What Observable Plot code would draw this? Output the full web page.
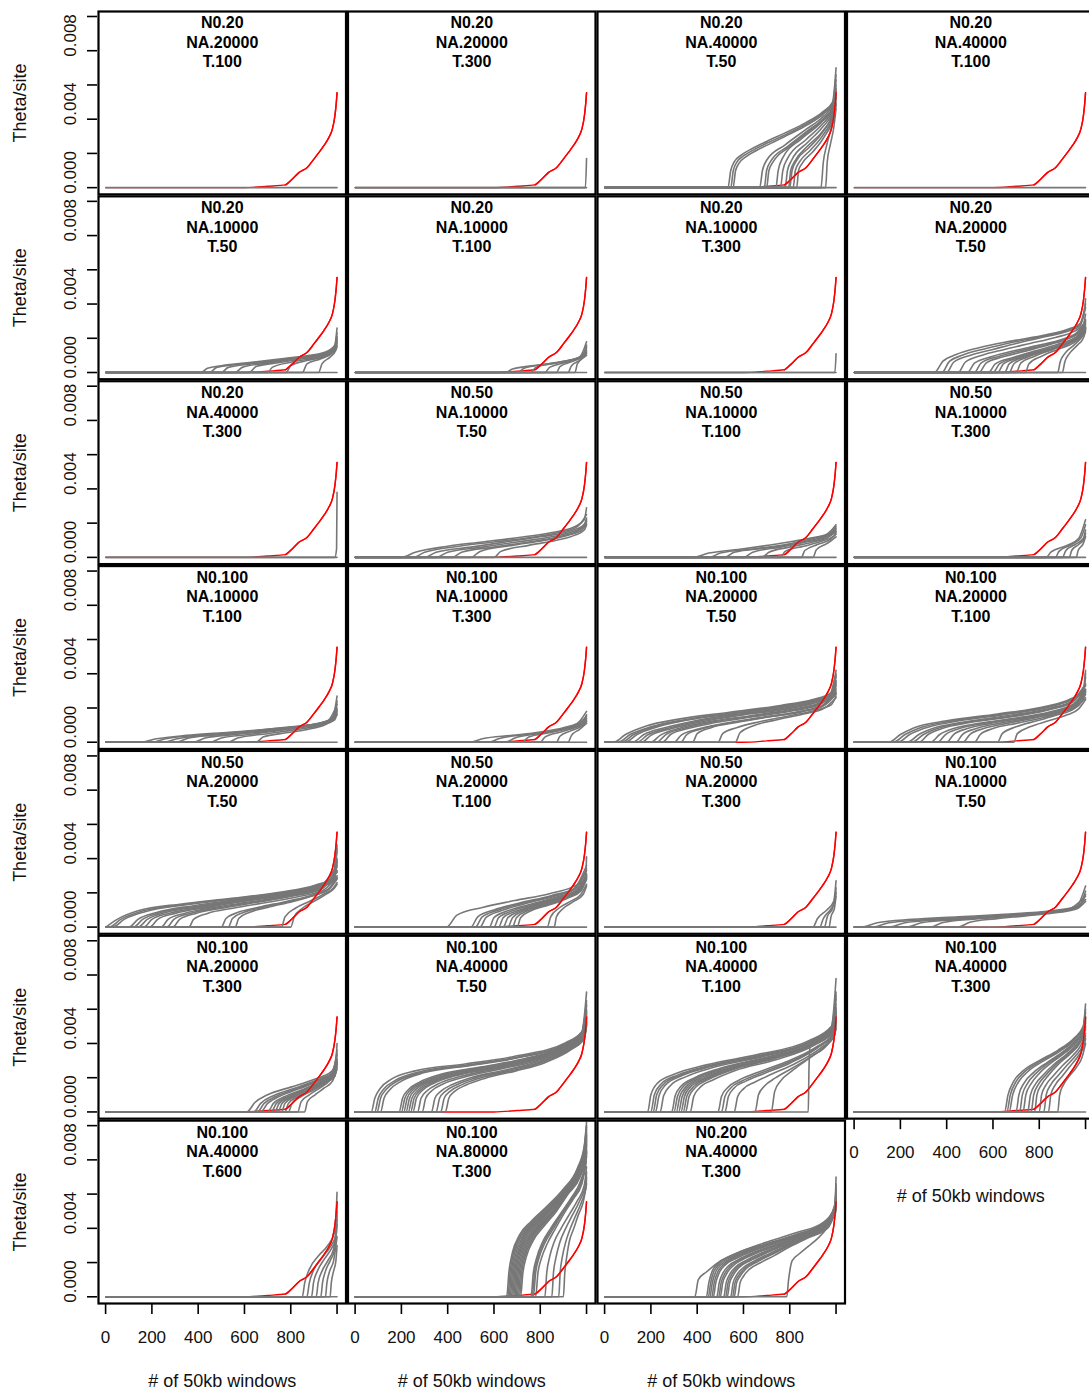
<!DOCTYPE html>
<html><head><meta charset="utf-8">
<script src="https://cdn.jsdelivr.net/npm/d3@7"></script>
<script src="https://cdn.jsdelivr.net/npm/@observablehq/plot@0.6"></script>
<style>
body{margin:0;background:#fff;}
#wrap{width:1089px;height:1392px;overflow:hidden;}
#wrap svg{max-width:none !important;}
</style></head><body><div id="wrap"></div>
<script>
// Panel titles (row-major, 4 per row)
const titleN0 = ["N0.20","N0.20","N0.20","N0.20","N0.20","N0.20","N0.20","N0.20","N0.20","N0.50","N0.50","N0.50","N0.100","N0.100","N0.100","N0.100","N0.50","N0.50","N0.50","N0.100","N0.100","N0.100","N0.100","N0.100","N0.100","N0.100","N0.200"];
const titleNA = ["NA.20000","NA.20000","NA.40000","NA.40000","NA.10000","NA.10000","NA.10000","NA.20000","NA.40000","NA.10000","NA.10000","NA.10000","NA.10000","NA.10000","NA.20000","NA.20000","NA.20000","NA.20000","NA.20000","NA.10000","NA.20000","NA.40000","NA.40000","NA.40000","NA.40000","NA.80000","NA.40000"];
const titleT = ["T.100","T.300","T.50","T.100","T.50","T.100","T.300","T.50","T.300","T.50","T.100","T.300","T.100","T.300","T.50","T.100","T.50","T.100","T.300","T.50","T.300","T.50","T.100","T.300","T.600","T.300","T.300"];

// Observed (red) sorted theta/site, x = window rank, y in units of 0.001
const redX = [1, 600, 700, 777, 806, 835, 871, 900, 922, 943, 965, 980, 991, 997, 1000];
const redY = [0, 0, 0.08, 0.16, 0.49, 0.88, 1.18, 1.67, 2.06, 2.45, 2.94, 3.43, 4.22, 5.0, 5.55];

// Simulated (gray) curves per panel: each is [x, y(0.001), x, y, ...] after the start (1, 0)
const g01 = [[1000,0]];
const g02 = [[1000,0],[995,0,1000,1.7]];
const g03 = [[1000,0],
 [533,0,545,1.0,560,1.5,590,1.9,640,2.3,700,2.7,780,3.2,870,3.8,940,4.4,985,5.0,1000,7.0],
 [545,0,556,1.0,572,1.5,600,1.85,650,2.25,710,2.65,790,3.15,875,3.75,942,4.35,986,4.95,1000,6.6],
 [555,0,566,1.0,582,1.45,610,1.8,660,2.2,720,2.6,795,3.1,880,3.7,945,4.3,988,4.9,1000,6.3],
 [670,0,682,1.0,700,1.6,780,2.5,870,3.4,940,4.1,985,4.8,1000,6.0],
 [690,0,700,1.0,718,1.55,790,2.4,875,3.3,942,4.0,986,4.7,1000,5.8],
 [700,0,710,1.0,728,1.5,795,2.35,878,3.25,943,3.95,987,4.65,1000,5.7],
 [740,0,750,1.0,770,1.75,850,2.85,935,3.8,985,4.6,1000,5.6],
 [760,0,770,1.0,790,1.7,870,2.8,940,3.7,985,4.5,1000,5.5],
 [780,0,790,1.0,808,1.6,878,2.65,942,3.55,986,4.4,1000,5.4],
 [795,0,804,1.0,822,1.55,875,2.4,942,3.3,986,4.35,1000,5.3],
 [800,0,810,1.0,830,1.6,880,2.3,940,3.2,985,4.3,1000,5.2],
 [815,0,824,1.0,842,1.5,890,2.2,945,3.1,987,4.2,1000,5.0],
 [830,0,838,1.0,855,1.45,900,2.1,950,3.0,988,4.1,1000,4.9],
 [935,0,945,1.5,960,2.5,985,3.8,1000,4.8],
 [955,0,962,1.5,975,2.5,990,3.5,1000,4.6]];
const g04 = [[1000,0]];
const g05 = [[1000,0],
 [410,0,440,0.25,500,0.4,630,0.6,760,0.8,850,0.95,950,1.2,990,1.6,1000,2.6],
 [450,0,480,0.3,630,0.55,760,0.75,850,0.9,950,1.15,990,1.5,1000,2.3],
 [500,0,530,0.3,630,0.5,760,0.7,850,0.85,950,1.1,990,1.45,1000,2.1],
 [560,0,590,0.3,700,0.55,850,0.85,950,1.05,990,1.4,1000,2.0],
 [620,0,650,0.35,760,0.6,850,0.8,950,1.0,990,1.35,1000,1.9],
 [700,0,720,0.3,800,0.6,900,0.85,980,1.2,1000,1.8],
 [780,0,800,0.4,870,0.7,950,0.95,990,1.3,1000,1.7],
 [850,0,870,0.5,930,0.8,985,1.2,1000,1.6],
 [920,0,935,0.5,970,0.9,995,1.3,1000,1.5]];
const g06 = [[1000,0],
 [650,0,680,0.2,800,0.45,900,0.65,970,0.9,1000,1.8],
 [700,0,730,0.25,830,0.5,920,0.7,980,0.95,1000,1.6],
 [760,0,780,0.3,870,0.55,950,0.8,995,1.1,1000,1.5],
 [820,0,840,0.3,900,0.55,960,0.8,1000,1.3],
 [870,0,885,0.35,940,0.65,990,1.0,1000,1.2],
 [920,0,935,0.4,975,0.75,1000,1.1],
 [950,0,960,0.5,990,0.9,1000,1.0]];
const g07 = [[1000,0],[995,0,1000,1.1]];
const g08 = [[1000,0],
 [347,0,383,0.65,441,1.05,540,1.45,685,1.85,830,2.2,917,2.5,975,2.85,995,3.6,1000,4.3],
 [380,0,410,0.62,470,1.02,570,1.4,690,1.78,830,2.15,918,2.45,975,2.8,1000,4.0],
 [400,0,430,0.6,500,1.0,600,1.35,700,1.7,830,2.1,920,2.4,975,2.7,1000,3.8],
 [450,0,480,0.6,550,1.0,650,1.35,760,1.7,870,2.05,950,2.4,990,2.8,1000,3.4],
 [490,0,520,0.55,600,0.95,700,1.3,800,1.6,900,1.95,960,2.3,1000,3.0],
 [520,0,548,0.55,620,0.92,720,1.28,830,1.62,915,1.98,970,2.35,1000,3.0],
 [540,0,570,0.55,640,0.9,740,1.25,850,1.65,930,2.0,980,2.4,1000,3.1],
 [580,0,610,0.5,680,0.85,780,1.25,880,1.65,950,2.0,990,2.4,1000,2.9],
 [600,0,628,0.5,695,0.85,790,1.22,890,1.62,955,2.0,1000,2.8],
 [620,0,645,0.5,710,0.85,800,1.2,900,1.6,960,2.0,1000,2.7],
 [650,0,670,0.5,730,0.88,820,1.25,910,1.65,970,2.05,1000,2.6],
 [670,0,690,0.5,750,0.9,840,1.3,920,1.7,975,2.1,1000,2.6],
 [700,0,720,0.55,780,0.95,860,1.35,930,1.7,980,2.1,1000,2.5],
 [740,0,755,0.5,810,0.95,880,1.35,950,1.75,990,2.2,1000,2.6],
 [880,0,890,0.6,910,1.1,950,1.6,985,2.1,1000,2.5],
 [900,0,910,0.6,930,1.1,965,1.6,990,2.0,1000,2.4]];
const g09 = [[1000,0],[990,0,998,0.5,1000,3.8]];
const g10 = [[1000,0],
 [200,0,260,0.3,400,0.65,550,0.9,700,1.15,850,1.45,950,1.8,990,2.2,1000,2.9],
 [250,0,300,0.3,450,0.65,600,0.9,750,1.15,880,1.45,960,1.8,1000,2.5],
 [300,0,350,0.3,500,0.6,650,0.9,800,1.2,920,1.5,990,1.9,1000,2.3],
 [350,0,400,0.3,550,0.6,700,0.9,850,1.2,940,1.5,990,1.8,1000,2.2],
 [420,0,460,0.3,600,0.6,750,0.9,880,1.2,960,1.55,1000,2.1],
 [500,0,540,0.35,680,0.7,820,1.0,920,1.3,980,1.6,1000,2.0],
 [600,0,630,0.35,750,0.7,870,1.0,950,1.3,990,1.6,1000,1.9]];
const g11 = [[1000,0],
 [380,0,450,0.25,600,0.5,750,0.8,880,1.1,960,1.35,1000,1.9],
 [450,0,500,0.25,650,0.5,800,0.8,900,1.1,970,1.35,1000,1.8],
 [520,0,560,0.3,700,0.55,820,0.8,920,1.1,980,1.35,1000,1.7],
 [600,0,640,0.3,760,0.6,870,0.9,950,1.15,1000,1.6],
 [680,0,710,0.3,800,0.6,900,0.9,970,1.2,1000,1.5],
 [760,0,780,0.35,860,0.65,940,0.95,990,1.25,1000,1.45],
 [850,0,865,0.4,920,0.75,975,1.05,1000,1.35],
 [900,0,915,0.45,960,0.8,1000,1.2]];
const g12 = [[1000,0],
 [830,0,850,0.3,920,0.7,970,1.1,1000,2.2],
 [870,0,885,0.35,940,0.75,980,1.15,1000,1.9],
 [900,0,915,0.4,955,0.75,990,1.1,1000,1.6],
 [930,0,940,0.4,970,0.75,995,1.1,1000,1.4],
 [960,0,968,0.4,990,0.8,1000,1.2]];
const g13 = [[1000,0],
 [150,0,220,0.2,350,0.4,500,0.55,650,0.7,800,0.9,920,1.1,980,1.4,1000,2.7],
 [200,0,260,0.2,400,0.4,550,0.55,700,0.75,850,0.95,950,1.2,990,1.5,1000,2.4],
 [250,0,310,0.2,450,0.4,600,0.55,750,0.75,880,1.0,960,1.25,1000,2.2],
 [300,0,360,0.25,500,0.45,650,0.6,800,0.8,920,1.05,980,1.3,1000,2.0],
 [380,0,430,0.25,560,0.45,700,0.65,850,0.9,940,1.1,990,1.4,1000,1.9],
 [450,0,500,0.25,620,0.45,760,0.7,880,0.95,960,1.2,1000,1.8],
 [530,0,570,0.25,700,0.5,830,0.75,930,1.0,990,1.3,1000,1.7],
 [650,0,680,0.3,780,0.55,890,0.8,960,1.1,1000,1.6]];
const g14 = [[1000,0],
 [500,0,550,0.2,680,0.4,800,0.6,900,0.85,960,1.1,1000,1.8],
 [580,0,620,0.2,740,0.45,850,0.65,930,0.9,980,1.15,1000,1.6],
 [650,0,690,0.25,790,0.5,880,0.7,950,0.95,1000,1.5],
 [720,0,750,0.3,840,0.55,920,0.8,980,1.05,1000,1.4],
 [800,0,820,0.3,890,0.6,950,0.85,995,1.15,1000,1.3],
 [870,0,885,0.35,930,0.65,980,0.95,1000,1.2],
 [920,0,935,0.4,970,0.75,1000,1.1]];
const g15 = [
 [40,0,90,0.45,180,0.95,320,1.35,540,1.75,760,2.15,900,2.5,975,2.85,1000,4.2],
 [60,0,110,0.45,200,0.9,340,1.3,550,1.7,760,2.1,900,2.45,975,2.8,1000,4.0],
 [75,0,125,0.45,215,0.9,350,1.3,555,1.69,765,2.08,902,2.42,975,2.78,1000,3.9],
 [90,0,140,0.45,230,0.9,360,1.3,560,1.68,770,2.05,905,2.4,975,2.75,1000,3.8],
 [120,0,170,0.45,260,0.85,390,1.25,580,1.65,780,2.0,910,2.35,980,2.7,1000,3.6],
 [140,0,185,0.42,275,0.82,405,1.22,590,1.62,785,1.97,910,2.32,980,2.68,1000,3.5],
 [160,0,200,0.4,290,0.8,420,1.2,600,1.6,790,1.95,910,2.3,980,2.65,1000,3.4],
 [200,0,240,0.4,320,0.8,450,1.2,630,1.55,800,1.9,920,2.25,985,2.6,1000,3.3],
 [225,0,262,0.42,340,0.8,465,1.18,640,1.52,810,1.88,925,2.22,1000,3.1],
 [250,0,285,0.45,360,0.8,480,1.15,650,1.5,820,1.85,930,2.2,1000,3.0],
 [300,0,330,0.4,400,0.75,520,1.1,680,1.45,840,1.8,940,2.15,1000,2.9],
 [330,0,355,0.45,425,0.8,540,1.12,700,1.47,850,1.8,945,2.15,1000,2.85],
 [380,0,400,0.5,460,0.85,570,1.15,720,1.5,860,1.8,950,2.15,1000,2.8],
 [490,0,510,0.5,570,0.85,670,1.2,800,1.55,920,1.9,980,2.2,1000,2.7],
 [565,0,585,0.55,640,0.95,740,1.3,860,1.65,950,2.0,1000,2.6]];
const g16 = [
 [150,0,200,0.45,260,0.85,400,1.25,620,1.65,830,2.1,930,2.5,990,3.0,1000,4.2],
 [170,0,220,0.45,280,0.82,415,1.22,630,1.62,835,2.07,932,2.47,990,2.95,1000,4.0],
 [190,0,240,0.45,300,0.8,430,1.2,640,1.6,840,2.05,935,2.45,990,2.9,1000,3.8],
 [230,0,280,0.45,340,0.8,460,1.15,660,1.55,850,2.0,940,2.4,1000,3.4],
 [250,0,300,0.45,360,0.8,480,1.15,675,1.52,855,1.97,942,2.37,1000,3.35],
 [280,0,320,0.45,380,0.8,500,1.15,690,1.5,860,1.95,945,2.35,1000,3.3],
 [330,0,370,0.45,430,0.8,540,1.1,720,1.45,870,1.85,950,2.25,1000,3.1],
 [360,0,395,0.45,455,0.8,560,1.1,735,1.45,875,1.82,952,2.22,1000,3.05],
 [400,0,430,0.45,490,0.8,590,1.1,750,1.45,880,1.8,955,2.2,1000,3.0],
 [440,0,468,0.45,528,0.8,625,1.1,770,1.45,890,1.8,960,2.2,1000,2.95],
 [470,0,500,0.45,560,0.8,660,1.1,790,1.45,900,1.8,965,2.2,1000,2.9],
 [520,0,545,0.45,600,0.8,700,1.1,820,1.45,910,1.8,970,2.15,1000,2.8],
 [620,0,640,0.5,700,0.9,790,1.25,880,1.6,950,1.95,1000,2.6],
 [690,0,705,0.5,760,0.9,840,1.25,920,1.6,970,1.95,1000,2.5]];
const g17 = [
 [1,0,50,0.45,140,0.95,330,1.35,545,1.68,760,2.05,905,2.45,980,2.85,1000,4.8],
 [15,0,65,0.45,155,0.92,340,1.32,552,1.66,765,2.02,907,2.42,980,2.82,1000,4.6],
 [30,0,80,0.45,170,0.9,350,1.3,560,1.65,770,2.0,910,2.4,980,2.8,1000,4.4],
 [100,0,140,0.45,220,0.85,380,1.25,580,1.62,780,1.98,910,2.35,985,2.75,1000,4.0],
 [120,0,160,0.45,240,0.85,395,1.22,590,1.6,785,1.96,912,2.32,985,2.72,1000,3.9],
 [140,0,180,0.45,260,0.85,410,1.2,600,1.58,790,1.95,915,2.3,985,2.7,1000,3.8],
 [165,0,200,0.45,280,0.82,425,1.18,610,1.56,795,1.92,918,2.29,1000,3.6],
 [190,0,225,0.45,300,0.8,440,1.15,620,1.55,800,1.9,920,2.28,1000,3.5],
 [240,0,270,0.45,340,0.8,470,1.15,640,1.5,810,1.88,925,2.25,1000,3.3],
 [265,0,295,0.45,365,0.8,490,1.13,655,1.49,815,1.86,928,2.22,1000,3.25],
 [290,0,320,0.45,390,0.8,510,1.12,670,1.48,820,1.85,930,2.2,1000,3.2],
 [360,0,380,0.45,440,0.8,550,1.1,700,1.45,840,1.8,940,2.15,1000,3.0],
 [500,0,520,0.5,570,0.85,660,1.15,780,1.5,890,1.85,960,2.2,1000,2.9],
 [530,0,548,0.5,595,0.85,680,1.15,795,1.5,895,1.85,962,2.2,1000,2.85],
 [560,0,575,0.5,620,0.85,700,1.15,810,1.5,900,1.85,965,2.2,1000,2.8],
 [760,0,775,0.6,820,1.1,880,1.5,940,1.9,985,2.3,1000,2.6],
 [800,0,815,0.6,850,1.1,900,1.5,950,1.9,990,2.3,1000,2.5]];
const g18 = [[1000,0],
 [395,0,440,0.7,550,1.15,690,1.55,840,1.95,940,2.35,995,2.8,1000,4.1],
 [500,0,530,0.6,600,1.0,710,1.4,850,1.85,945,2.25,1000,3.6],
 [520,0,548,0.58,615,0.98,720,1.38,855,1.82,948,2.22,1000,3.4],
 [540,0,565,0.55,630,0.95,730,1.35,860,1.8,950,2.2,1000,3.3],
 [580,0,600,0.55,660,0.95,750,1.3,870,1.75,955,2.15,1000,3.1],
 [600,0,620,0.55,680,0.95,765,1.3,875,1.72,958,2.12,1000,3.05],
 [620,0,640,0.55,700,0.95,780,1.3,880,1.7,960,2.1,1000,3.0],
 [640,0,660,0.55,715,0.95,795,1.3,890,1.7,962,2.1,1000,2.95],
 [660,0,680,0.55,730,0.95,810,1.3,900,1.7,965,2.1,1000,2.9],
 [680,0,697,0.55,745,0.95,825,1.3,910,1.7,970,2.1,1000,2.85],
 [700,0,715,0.55,760,0.95,840,1.3,920,1.7,975,2.1,1000,2.8],
 [830,0,845,0.6,880,1.1,930,1.5,975,1.9,1000,2.5],
 [860,0,870,0.6,900,1.1,945,1.5,985,1.9,1000,2.4]];
const g19 = [[1000,0],
 [900,0,920,0.5,960,1.0,990,1.5,1000,2.7],
 [930,0,945,0.5,975,1.0,995,1.5,1000,2.3],
 [950,0,962,0.6,985,1.1,1000,2.0],
 [970,0,978,0.6,993,1.1,1000,1.8]];
const g20 = [[1000,0],
 [30,0,100,0.25,250,0.45,450,0.6,650,0.75,850,0.95,960,1.2,1000,2.4],
 [80,0,150,0.25,300,0.42,500,0.58,700,0.75,880,0.95,970,1.2,1000,2.1],
 [150,0,220,0.25,370,0.42,560,0.58,750,0.75,900,0.95,975,1.2,1000,1.9],
 [230,0,290,0.25,430,0.42,600,0.58,780,0.78,920,1.0,1000,1.8],
 [330,0,380,0.25,500,0.45,650,0.6,810,0.8,930,1.0,1000,1.6],
 [450,0,500,0.28,610,0.48,740,0.65,880,0.85,960,1.05,1000,1.5]];
const g21 = [
 [610,0,645,0.55,700,1.0,800,1.45,900,1.9,975,2.35,995,3.0,1000,4.0],
 [640,0,670,0.5,725,0.95,820,1.4,910,1.85,980,2.3,1000,3.6],
 [655,0,685,0.5,738,0.92,828,1.38,915,1.82,980,2.28,1000,3.4],
 [670,0,700,0.5,750,0.9,835,1.35,920,1.8,980,2.25,1000,3.3],
 [700,0,725,0.5,775,0.9,850,1.3,925,1.75,985,2.2,1000,3.1],
 [715,0,738,0.5,788,0.9,858,1.3,930,1.72,985,2.18,1000,3.05],
 [730,0,750,0.5,800,0.9,865,1.3,935,1.7,985,2.15,1000,3.0],
 [745,0,762,0.5,810,0.9,872,1.3,938,1.7,988,2.12,1000,2.95],
 [760,0,775,0.5,820,0.9,880,1.3,940,1.7,990,2.1,1000,2.9],
 [775,0,790,0.5,832,0.9,890,1.3,945,1.7,990,2.1,1000,2.85],
 [790,0,805,0.5,845,0.9,900,1.3,950,1.7,990,2.1,1000,2.8],
 [830,0,845,0.6,880,1.0,925,1.4,965,1.8,1000,2.6],
 [860,0,872,0.6,905,1.0,945,1.4,980,1.8,1000,2.5]];
const g22 = [
 [70,0,85,0.8,110,1.4,155,1.9,260,2.4,475,2.8,690,3.25,910,4.05,980,4.7,1000,7.0],
 [85,0,100,0.8,125,1.35,175,1.85,280,2.35,490,2.75,700,3.2,910,4.0,980,4.65,1000,6.5],
 [95,0,110,0.8,135,1.32,185,1.82,290,2.32,495,2.73,705,3.19,912,3.97,980,4.62,1000,6.3],
 [110,0,125,0.8,150,1.3,200,1.8,300,2.3,500,2.72,710,3.18,915,3.95,980,4.6,1000,6.2],
 [190,0,205,0.8,230,1.3,280,1.75,370,2.2,540,2.62,730,3.1,915,3.9,985,4.55,1000,6.0],
 [200,0,215,0.8,240,1.3,290,1.73,380,2.17,550,2.61,735,3.09,917,3.89,985,4.52,1000,5.9],
 [210,0,225,0.8,250,1.3,300,1.72,390,2.15,560,2.6,740,3.08,920,3.88,985,4.5,1000,5.8],
 [220,0,235,0.8,260,1.28,310,1.71,400,2.13,570,2.59,745,3.06,920,3.86,985,4.47,1000,5.7],
 [230,0,245,0.8,270,1.25,320,1.7,410,2.12,580,2.58,750,3.05,920,3.85,985,4.45,1000,5.6],
 [240,0,255,0.8,280,1.25,330,1.69,420,2.11,590,2.56,755,3.03,922,3.82,988,4.45,1000,5.5],
 [250,0,265,0.8,290,1.25,340,1.68,430,2.1,600,2.55,760,3.02,925,3.8,990,4.45,1000,5.4],
 [270,0,285,0.8,310,1.22,360,1.65,450,2.05,610,2.52,770,3.0,925,3.78,990,4.4,1000,5.3],
 [290,0,305,0.8,330,1.22,380,1.63,470,2.03,625,2.5,780,2.98,928,3.76,990,4.38,1000,5.25],
 [330,0,345,0.8,370,1.2,420,1.6,500,2.0,650,2.45,790,2.95,930,3.72,990,4.35,1000,5.2],
 [350,0,365,0.8,390,1.2,440,1.59,520,1.99,665,2.44,800,2.92,932,3.71,990,4.32,1000,5.15],
 [370,0,385,0.8,410,1.2,460,1.58,540,1.98,680,2.42,810,2.9,935,3.7,990,4.3,1000,5.1],
 [390,0,405,0.8,430,1.2,480,1.57,560,1.96,695,2.4,820,2.88,938,3.68,990,4.28,1000,5.05]];
const g23 = [
 [186,0,200,1.0,230,1.7,300,2.2,440,2.75,660,3.35,880,4.15,980,5.0,1000,7.8],
 [200,0,215,1.0,245,1.65,315,2.15,450,2.7,670,3.3,885,4.1,980,4.95,1000,7.0],
 [210,0,225,1.0,255,1.62,322,2.12,455,2.68,675,3.29,888,4.09,981,4.92,1000,6.8],
 [220,0,235,0.95,265,1.6,330,2.1,460,2.65,680,3.28,890,4.08,982,4.9,1000,6.6],
 [240,0,255,0.95,285,1.55,350,2.05,475,2.62,690,3.25,890,4.05,985,4.9,1000,6.3],
 [290,0,305,0.95,330,1.5,390,2.0,500,2.55,700,3.2,895,4.0,985,4.85,1000,6.1],
 [300,0,315,0.92,340,1.48,400,1.98,510,2.52,705,3.18,895,3.99,985,4.82,1000,6.0],
 [310,0,325,0.9,350,1.45,410,1.95,520,2.5,710,3.15,895,3.98,985,4.8,1000,5.9],
 [320,0,335,0.9,360,1.45,420,1.93,528,2.49,715,3.13,898,3.96,987,4.78,1000,5.85],
 [330,0,345,0.9,370,1.45,430,1.92,535,2.48,720,3.12,900,3.95,988,4.75,1000,5.8],
 [340,0,355,0.9,380,1.42,440,1.91,542,2.46,725,3.11,900,3.93,988,4.72,1000,5.7],
 [350,0,365,0.9,390,1.4,450,1.9,550,2.45,730,3.1,900,3.92,988,4.7,1000,5.6],
 [370,0,385,0.9,410,1.4,470,1.88,565,2.42,740,3.05,905,3.9,990,4.7,1000,5.5],
 [490,0,505,0.9,530,1.4,580,1.85,660,2.3,780,2.9,915,3.8,990,4.6,1000,5.4],
 [505,0,520,0.9,545,1.4,595,1.82,675,2.27,790,2.87,918,3.77,990,4.57,1000,5.35],
 [520,0,535,0.9,560,1.4,610,1.8,690,2.25,800,2.85,920,3.75,990,4.55,1000,5.3],
 [560,0,575,0.9,600,1.35,650,1.75,720,2.2,820,2.8,930,3.7,995,4.5,1000,5.2],
 [650,0,665,1.0,690,1.5,740,2.0,810,2.55,900,3.3,965,4.0,1000,5.0],
 [720,0,735,1.2,760,1.8,810,2.4,870,3.0,940,3.7,990,4.4,1000,4.9],
 [880,0,883,2.5,888,3.8,930,4.1,975,4.5,1000,4.8]];
const g24 = [[1000,0],
 [650,0,665,1.0,690,1.8,730,2.4,800,3.0,880,3.6,950,4.3,990,5.0,1000,6.3],
 [660,0,675,1.0,700,1.78,740,2.38,808,2.98,885,3.58,952,4.28,990,4.95,1000,6.0],
 [670,0,685,1.0,710,1.75,750,2.35,815,2.95,890,3.55,955,4.25,990,4.9,1000,5.8],
 [700,0,712,1.0,735,1.7,775,2.3,835,2.9,900,3.5,960,4.2,995,4.85,1000,5.5],
 [715,0,727,1.0,750,1.68,788,2.28,842,2.88,905,3.48,962,4.18,998,4.85,1000,5.35],
 [730,0,742,1.0,765,1.65,800,2.25,850,2.85,910,3.45,965,4.15,1000,5.2],
 [750,0,762,1.0,785,1.65,820,2.2,865,2.8,920,3.4,970,4.1,1000,5.0],
 [765,0,776,1.0,797,1.62,830,2.18,872,2.78,925,3.38,972,4.05,1000,4.9],
 [780,0,790,1.0,810,1.6,840,2.15,880,2.75,930,3.35,975,4.0,1000,4.8],
 [800,0,810,1.0,830,1.6,860,2.1,900,2.7,945,3.3,980,3.9,1000,4.6],
 [820,0,830,1.0,850,1.6,880,2.1,918,2.7,958,3.3,988,3.9,1000,4.45],
 [840,0,850,1.0,870,1.6,900,2.1,935,2.7,970,3.3,995,3.9,1000,4.3],
 [880,0,888,1.0,905,1.6,930,2.1,960,2.6,985,3.2,1000,4.0]];
const g25 = [[1000,0],
 [850,0,860,0.8,880,1.6,920,2.4,960,3.0,990,3.8,1000,6.1],
 [870,0,880,0.8,900,1.6,935,2.3,970,2.9,995,3.6,1000,5.5],
 [890,0,898,0.8,915,1.5,945,2.2,975,2.8,995,3.4,1000,5.0],
 [910,0,918,0.8,935,1.5,960,2.1,985,2.8,1000,4.5],
 [930,0,937,0.8,950,1.5,970,2.1,990,2.8,1000,4.2],
 [950,0,956,0.8,968,1.5,985,2.1,1000,3.5],
 [970,0,975,0.8,985,1.5,995,2.1,1000,3.0]];
const g26 = [
 [655,0,665,1.5,680,2.6,710,3.6,760,4.4,830,5.3,900,6.3,960,7.5,990,8.8,1000,10.2],
 [660,0,670,1.5,685,2.6,715,3.58,765,4.38,835,5.28,902,6.28,961,7.45,990,8.7,1000,10.0],
 [665,0,675,1.5,690,2.6,720,3.55,770,4.35,840,5.25,905,6.25,962,7.4,990,8.6,1000,9.9],
 [670,0,680,1.5,695,2.55,725,3.52,775,4.32,842,5.22,907,6.22,963,7.35,991,8.55,1000,9.75],
 [675,0,685,1.5,700,2.5,730,3.5,780,4.3,845,5.2,910,6.2,965,7.3,992,8.5,1000,9.6],
 [680,0,690,1.5,705,2.5,735,3.48,785,4.28,848,5.18,911,6.18,965,7.28,992,8.45,1000,9.5],
 [685,0,695,1.5,710,2.5,740,3.45,790,4.25,850,5.15,912,6.15,965,7.25,992,8.4,1000,9.4],
 [690,0,700,1.5,715,2.48,745,3.42,795,4.22,855,5.12,913,6.12,966,7.22,993,8.35,1000,9.3],
 [695,0,705,1.5,720,2.45,750,3.4,800,4.2,860,5.1,915,6.1,968,7.2,993,8.3,1000,9.2],
 [700,0,710,1.48,725,2.42,755,3.38,803,4.18,862,5.08,916,6.08,969,7.15,994,8.25,1000,9.1],
 [705,0,715,1.45,730,2.4,760,3.35,805,4.15,865,5.05,918,6.05,970,7.1,994,8.2,1000,9.0],
 [710,0,720,1.42,735,2.38,765,3.32,810,4.12,868,5.02,919,6.02,971,7.05,995,8.1,1000,8.9],
 [715,0,725,1.4,740,2.35,770,3.3,815,4.1,870,5.0,920,6.0,972,7.0,995,8.0,1000,8.8],
 [760,0,770,1.4,785,2.3,810,3.2,845,4.0,890,4.9,935,5.8,975,6.8,995,7.8,1000,8.6],
 [765,0,775,1.4,790,2.3,815,3.18,850,3.98,892,4.88,938,5.78,977,6.75,996,7.75,1000,8.5],
 [770,0,780,1.4,795,2.3,820,3.15,855,3.95,895,4.85,940,5.75,978,6.7,996,7.7,1000,8.4],
 [780,0,790,1.4,805,2.25,830,3.1,862,3.9,900,4.8,942,5.7,980,6.6,1000,8.2],
 [820,0,828,1.4,840,2.3,860,3.2,890,4.0,925,4.8,960,5.6,990,6.5,1000,7.6],
 [850,0,857,1.4,868,2.3,885,3.2,910,4.0,940,4.8,970,5.6,995,6.5,1000,7.3],
 [880,0,886,1.4,895,2.3,910,3.2,930,4.0,955,4.8,980,5.6,998,6.4,1000,7.0],
 [900,0,906,1.4,914,2.3,925,3.2,945,4.0,965,4.8,985,5.5,1000,6.6]];
const g27 = [
 [390,0,405,1.0,440,1.45,490,2.0,570,2.55,690,3.15,830,3.75,945,4.35,995,5.3,1000,7.0],
 [440,0,450,0.8,465,1.5,490,1.95,540,2.35,600,2.7,700,3.1,830,3.65,945,4.3,995,5.2,1000,6.6],
 [448,0,458,0.8,472,1.48,498,1.93,548,2.33,608,2.68,705,3.09,833,3.64,947,4.28,995,5.15,1000,6.45],
 [455,0,465,0.8,480,1.45,505,1.9,555,2.3,615,2.65,710,3.07,835,3.62,948,4.25,995,5.1,1000,6.3],
 [463,0,473,0.8,488,1.42,513,1.88,563,2.28,623,2.63,715,3.05,838,3.61,949,4.24,995,5.05,1000,6.2],
 [470,0,480,0.8,495,1.4,520,1.85,570,2.25,630,2.62,720,3.04,840,3.6,950,4.22,995,5.0,1000,6.1],
 [485,0,495,0.8,510,1.35,535,1.8,585,2.22,645,2.6,730,3.0,845,3.57,952,4.2,996,5.0,1000,5.9],
 [493,0,503,0.8,518,1.32,543,1.78,593,2.21,653,2.58,735,2.99,848,3.56,954,4.18,997,4.97,1000,5.85],
 [500,0,510,0.8,525,1.3,550,1.75,600,2.2,660,2.57,740,2.98,850,3.55,955,4.17,997,4.95,1000,5.8],
 [515,0,525,0.8,540,1.3,565,1.72,615,2.15,675,2.54,750,2.95,855,3.52,957,4.15,998,4.9,1000,5.7],
 [523,0,533,0.8,548,1.28,573,1.71,623,2.13,683,2.52,755,2.93,858,3.51,959,4.13,1000,5.65],
 [530,0,540,0.8,555,1.25,580,1.7,630,2.12,690,2.5,760,2.92,860,3.5,960,4.12,1000,5.6],
 [545,0,555,0.8,570,1.25,595,1.65,645,2.08,705,2.48,770,2.9,865,3.47,962,4.1,1000,5.5],
 [553,0,563,0.8,578,1.22,603,1.63,653,2.06,713,2.46,775,2.88,868,3.46,964,4.09,1000,5.45],
 [560,0,570,0.8,585,1.2,610,1.62,660,2.05,720,2.45,780,2.87,870,3.45,965,4.08,1000,5.4],
 [575,0,585,0.8,600,1.2,625,1.6,675,2.0,735,2.42,790,2.85,875,3.42,967,4.05,1000,5.3],
 [787,0,795,1.0,810,2.1,840,2.5,880,2.95,920,3.4,960,4.0,990,4.7,1000,5.2]];

const grayPanels = [g01,g02,g03,g04,g05,g06,g07,g08,g09,g10,g11,g12,g13,g14,g15,g16,g17,g18,g19,g20,g21,g22,g23,g24,g25,g26,g27];

// Axis ticks and labels
const yTicks = [0, 0.002, 0.004, 0.006, 0.008, 0.010];
const yLabels = [0, 0.004, 0.008];
const xTicks = [0, 200, 400, 600, 800, 1000];
const yTitle = "Theta/site";
const xTitle = "# of 50kb windows";
const xTitlePanels = [23, 24, 25, 26];   // panels with an x axis under them
const yTitlePanels = [0, 4, 8, 12, 16, 20, 24]; // left column

// Build tables
const grayRows = [];
grayPanels.forEach((curves, p) => curves.forEach((c, k) => {
  const id = p * 100 + k;
  if (c[0] > 1) grayRows.push({p, id, x: 1, y: 0});
  for (let i = 0; i < c.length; i += 2) grayRows.push({p, id, x: c[i], y: c[i + 1] / 1000});
}));
const redRows = [];
titleN0.forEach((_, p) => redX.forEach((x, i) => redRows.push({p, x, y: redY[i] / 1000})));
const redRise = redRows.filter(d => d.x >= 777);
const titles = titleN0.map((n, p) => ({p, text: n + "\n" + titleNA[p] + "\n" + titleT[p]}));

const fx = d => d.p % 4;
const fy = d => Math.floor(d.p / 4);

const chart = Plot.plot({
  width: 1095,
  height: 1392,
  marginLeft: 97,
  marginRight: 0,
  marginTop: 10,
  marginBottom: 88,
  style: {fontFamily: "'Liberation Sans', Arial, Helvetica, sans-serif", fontSize: "17px", color: "#111", background: "white"},
  fx: {domain: [0, 1, 2, 3], padding: 0, round: false, axis: null},
  fy: {domain: [0, 1, 2, 3, 4, 5, 6], padding: 0, round: false, axis: null},
  x: {domain: [-35, 1043]},
  y: {domain: [-0.00045, 0.01035]},
  marks: [
    Plot.line(redRows, {x: "x", y: "y", z: "p", fx, fy, stroke: "#ff0000", strokeWidth: 1.4, curve: "monotone-x"}),
    Plot.line(grayRows, {x: "x", y: "y", z: "id", fx, fy, stroke: "#777777", strokeWidth: 1.6, curve: "monotone-x"}),
    Plot.line(redRise, {x: "x", y: "y", z: "p", fx, fy, stroke: "#ff0000", strokeWidth: 1.4, curve: "monotone-x"}),
    Plot.text(titles, {fx, fy, text: "text", frameAnchor: "top", dy: 4, lineHeight: 1.22, fontWeight: "bold", fontSize: 16, fill: "#000"}),
    Plot.frame({stroke: "#000", strokeWidth: 2.2, inset: 1}),
    Plot.axisY({ticks: yTicks, tickSize: 10, tickFormat: () => "", label: null, facetAnchor: "left", strokeWidth: 1.6, stroke: "#000"}),
    Plot.axisY({ticks: yLabels, tickSize: 0, tickPadding: 22, tickRotate: -90, textAnchor: "start", dy: 6, tickFormat: d3.format(".3f"), label: null, facetAnchor: "left"}),
    Plot.axisX({ticks: xTicks, tickSize: 10, tickPadding: 16, tickFormat: d => d === 1000 ? "" : String(d), label: null, facetAnchor: "bottom-empty", strokeWidth: 1.6, stroke: "#000"}),
    Plot.text(xTitlePanels.map(p => ({p})), {fx, fy, text: () => xTitle, frameAnchor: "bottom", dy: 82, fontSize: 18, fill: "#111"}),
    Plot.text(yTitlePanels.map(p => ({p})), {fx, fy, text: () => yTitle, frameAnchor: "left", textAnchor: "middle", dx: -77, rotate: -90, fontSize: 18, fill: "#111"})
  ]
});
document.getElementById("wrap").appendChild(chart);
</script></body></html>
